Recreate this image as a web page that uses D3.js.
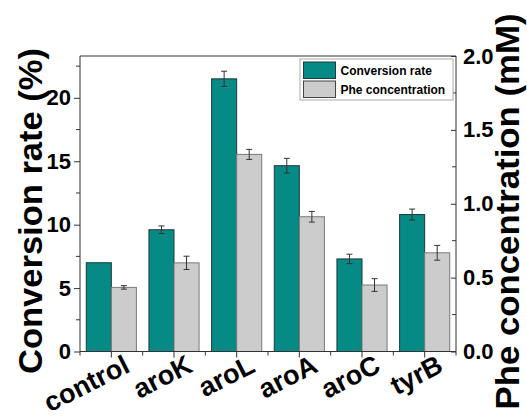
<!DOCTYPE html>
<html>
<head>
<meta charset="utf-8">
<script src="https://cdn.jsdelivr.net/npm/d3@7"></script>
<style>
  html, body { margin: 0; padding: 0; background: #fff; }
  text { font-family: "Liberation Sans", Arimo, Arial, sans-serif; font-weight: bold; fill: #000; }
</style>
</head>
<body>
<svg id="chart" width="527" height="420"></svg>
<script>
const categories = ["control", "aroK", "aroL", "aroA", "aroC", "tyrB"];
const conversionRate = [7.0, 9.6, 21.5, 14.65, 7.3, 10.8];
const conversionErr = [0.0, 0.3, 0.6, 0.58, 0.37, 0.43];
const pheConc = [0.434, 0.6, 1.334, 0.912, 0.45, 0.668];
const pheErr = [0.012, 0.045, 0.034, 0.036, 0.043, 0.05];
const leftTicks = [0, 5, 10, 15, 20];
const rightTicks = [0.0, 0.5, 1.0, 1.5, 2.0];
const seriesNames = ["Conversion rate", "Phe concentration"];

const svg = d3.select("#chart");
const L = 80, R = 456, T = 56, B = 351.5;
const teal = "#058a86", grey = "#cccccc";

const x = d3.scaleBand().domain(categories).range([L, R]).paddingInner(0.2).paddingOuter(0.1);
const xs = d3.scaleBand().domain(seriesNames).range([0, x.bandwidth()]);
const yL = d3.scaleLinear().domain([0, 23.3]).range([B, T]);
const yR = d3.scaleLinear().domain([0, 2.0]).range([B, T]);
const step = x.step();
const cx = c => x(c) + x.bandwidth() / 2;

// bars
const g = svg.append("g");
categories.forEach((c, i) => {
  g.append("rect")
    .attr("x", x(c) + xs(seriesNames[0])).attr("y", yL(conversionRate[i]))
    .attr("width", xs.bandwidth()).attr("height", B - yL(conversionRate[i]))
    .attr("fill", teal).attr("stroke", "#1f3b3a").attr("stroke-width", 1);
  g.append("rect")
    .attr("x", x(c) + xs(seriesNames[1])).attr("y", yR(pheConc[i]))
    .attr("width", xs.bandwidth()).attr("height", B - yR(pheConc[i]))
    .attr("fill", grey).attr("stroke", "#7a7a7a").attr("stroke-width", 1);
});

// error bars
function errBar(xc, yTop, yBot) {
  const e = svg.append("g").attr("stroke", "#333").attr("stroke-width", 1);
  e.append("line").attr("x1", xc).attr("x2", xc).attr("y1", yTop).attr("y2", yBot);
  e.append("line").attr("x1", xc - 3).attr("x2", xc + 3).attr("y1", yTop).attr("y2", yTop);
  e.append("line").attr("x1", xc - 3).attr("x2", xc + 3).attr("y1", yBot).attr("y2", yBot);
}
categories.forEach((c, i) => {
  const x1 = x(c) + xs(seriesNames[0]) + xs.bandwidth() / 2;
  if (conversionErr[i] > 0) errBar(x1, yL(conversionRate[i] + conversionErr[i]), yL(conversionRate[i] - conversionErr[i]));
  const x2 = x(c) + xs(seriesNames[1]) + xs.bandwidth() / 2;
  errBar(x2, yR(pheConc[i] + pheErr[i]), yR(pheConc[i] - pheErr[i]));
});

// frame
const axisColor = "#333";
svg.append("line").attr("x1", L).attr("x2", R).attr("y1", T).attr("y2", T).attr("stroke", axisColor);

// left axis
const leftAxis = d3.axisLeft(yL).tickValues(leftTicks).tickSize(6).tickPadding(3).tickFormat(d3.format("d"));
const gl = svg.append("g").attr("transform", `translate(${L},0)`).call(leftAxis);
gl.select(".domain").attr("d", `M0,${B}V${T}`).attr("stroke", axisColor);
gl.selectAll(".tick line").attr("stroke", axisColor);
gl.selectAll(".tick text").style("font-size", "22px").attr("fill", "#000");
const leftMinor = d3.range(2.5, 23.3, 5);
gl.selectAll(".minor").data(leftMinor).enter().append("line")
  .attr("x1", -4).attr("x2", 0).attr("y1", d => yL(d)).attr("y2", d => yL(d)).attr("stroke", axisColor);

// right axis
const rightAxis = d3.axisRight(yR).tickValues(rightTicks).tickSize(-5).tickPadding(7).tickFormat(d3.format(".1f"));
const gr = svg.append("g").attr("transform", `translate(${R},0)`).call(rightAxis);
gr.select(".domain").attr("d", `M0,${B}V${T}`).attr("stroke", axisColor);
gr.selectAll(".tick line").attr("stroke", axisColor);
gr.selectAll(".tick text").style("font-size", "22px").attr("fill", "#000").attr("x", 7);
const rightMinor = [0.25, 0.75, 1.25, 1.75];
gr.selectAll(".minor").data(rightMinor).enter().append("line")
  .attr("x1", -4).attr("x2", 0).attr("y1", d => yR(d)).attr("y2", d => yR(d)).attr("stroke", axisColor);

// bottom axis
const gb = svg.append("g");
gb.append("line").attr("x1", L).attr("x2", R).attr("y1", B).attr("y2", B).attr("stroke", axisColor);
categories.forEach(c => {
  gb.append("line").attr("x1", cx(c)).attr("x2", cx(c)).attr("y1", B).attr("y2", B + 6).attr("stroke", axisColor);
  gb.append("line").attr("x1", cx(c) + step / 2).attr("x2", cx(c) + step / 2).attr("y1", B).attr("y2", B + 4).attr("stroke", axisColor);
  gb.append("text").attr("transform", `translate(${cx(c) + 20},371) rotate(-27)`)
    .attr("text-anchor", "end").style("font-size", "27px").text(c);
});
gb.append("line").attr("x1", L).attr("x2", L).attr("y1", B).attr("y2", B + 4).attr("stroke", axisColor);

// axis titles
svg.append("text").attr("transform", "translate(42,211) rotate(-90)").attr("text-anchor", "middle")
  .attr("textLength", 326).attr("lengthAdjust", "spacingAndGlyphs")
  .style("font-size", "34px").text("Conversion rate (%)");
svg.append("text").attr("transform", "translate(519,211.5) rotate(-90)").attr("text-anchor", "middle")
  .attr("textLength", 396).attr("lengthAdjust", "spacingAndGlyphs")
  .style("font-size", "33px").text("Phe concentration (mM)");

// legend
const lg = svg.append("g");
lg.append("rect").attr("x", 300).attr("y", 59).attr("width", 153).attr("height", 41)
  .attr("fill", "#fff").attr("stroke", "#aaa").attr("stroke-width", 1);
const colors = [teal, grey];
const strokes = ["#1f3b3a", "#444"];
seriesNames.forEach((s, i) => {
  lg.append("rect").attr("x", 303.5).attr("y", 62 + i * 19).attr("width", 32).attr("height", 16.5)
    .attr("fill", colors[i]).attr("stroke", strokes[i]).attr("stroke-width", 1);
  lg.append("text").attr("x", 340.5).attr("y", 75 + i * 19).style("font-size", "12px").text(s);
});
</script>
</body>
</html>
